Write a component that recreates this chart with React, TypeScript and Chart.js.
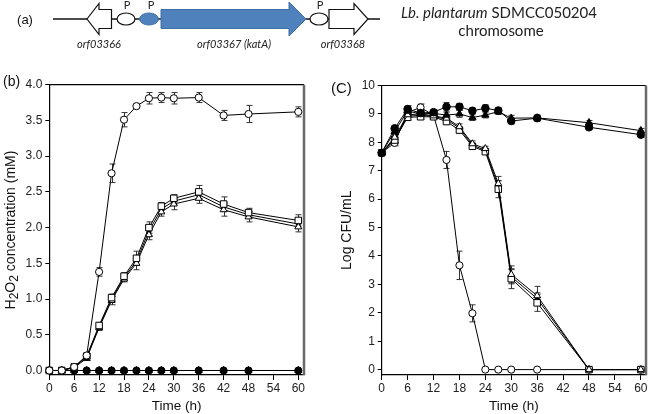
import React, { useEffect, useRef } from "react";
import { Chart, registerables } from "chart.js";
Chart.register(...registerables);

// ---------- Panel (b): H2O2 concentration ----------
const timesB = [0, 3, 6, 9, 12, 15, 18, 21, 24, 27, 30, 36, 42, 48, 60];
const bOpenCircle = [0, 0, 0.05, 0.21, 1.38, 2.76, 3.51, 3.7, 3.81, 3.82, 3.81, 3.82, 3.57, 3.59, 3.62];
const bOpenCircleErr = [0, 0, 0.02, 0.03, 0.06, 0.13, 0.1, 0.03, 0.08, 0.07, 0.08, 0.07, 0.07, 0.12, 0.07];
const bOpenSquare = [0, 0, 0.05, 0.2, 0.63, 1.02, 1.32, 1.57, 2.0, 2.3, 2.41, 2.5, 2.33, 2.21, 2.1];
const bOpenSquareErr = [0, 0, 0.01, 0.03, 0.04, 0.05, 0.05, 0.1, 0.08, 0.05, 0.05, 0.09, 0.1, 0.06, 0.08];
const bOpenTriangle = [0, 0, 0.04, 0.17, 0.6, 0.98, 1.28, 1.5, 1.9, 2.22, 2.33, 2.41, 2.25, 2.15, 2.01];
const bOpenTriangleErr = [0, 0, 0.01, 0.03, 0.04, 0.06, 0.04, 0.09, 0.07, 0.06, 0.08, 0.07, 0.09, 0.07, 0.07];
const bFilledSquare = [0, 0, 0.05, 0.19, 0.61, 1.0, 1.3, 1.53, 1.95, 2.26, 2.37, 2.46, 2.29, 2.18, 2.05];
const bFilledSquareErr = [0, 0, 0, 0.02, 0.03, 0.04, 0.04, 0.06, 0.06, 0.05, 0.05, 0.06, 0.06, 0.05, 0.06];
const bFilledCircle = [0, 0, 0, 0, 0, 0, 0, 0, 0, 0, 0, 0, 0, 0, 0];
const bFilledTriangle = [0, 0, 0, 0, 0, 0, 0, 0, 0, 0, 0, 0, 0, 0, 0];
const bYTicks = [0, 0.5, 1, 1.5, 2, 2.5, 3, 3.5, 4];

// ---------- Panel (c): Log CFU/mL ----------
const timesC = [0, 3, 6, 9, 12, 15, 18, 21, 24, 27, 30, 36, 48, 60];
const cOpenCircle = [7.63, 7.98, 9.05, 9.23, 8.95, 7.38, 3.67, 1.98, 0, 0, 0, 0, 0, 0];
const cOpenCircleErr = [0.05, 0.1, 0.1, 0.12, 0.1, 0.3, 0.5, 0.3, 0, 0, 0, 0, 0, 0];
const cFilledCircle = [7.63, 8.49, 9.17, 9.03, 9.06, 9.25, 9.25, 9.11, 9.2, 9.12, 8.75, 8.85, 8.53, 8.27];
const cFilledCircleErr = [0.05, 0.1, 0.12, 0.08, 0.08, 0.15, 0.12, 0.1, 0.12, 0.1, 0.1, 0.1, 0.08, 0.1];
const cFilledTriangle = [7.63, 8.38, 9.1, 9.0, 9.02, 8.96, 9.0, 8.87, 8.96, 9.08, 8.85, 8.86, 8.69, 8.41];
const cFilledTriangleErr = [0.05, 0.1, 0.1, 0.08, 0.08, 0.1, 0.12, 0.1, 0.1, 0.1, 0.1, 0.1, 0.08, 0.08];
const cOpenSquare = [7.63, 8.08, 8.88, 8.9, 8.9, 8.73, 8.43, 7.86, 7.67, 6.35, 3.2, 2.35, 0, 0];
const cOpenSquareErr = [0.05, 0.1, 0.1, 0.08, 0.08, 0.1, 0.1, 0.1, 0.08, 0.3, 0.35, 0.3, 0, 0];
const cOpenTriangle = [7.63, 8.18, 8.97, 9.0, 8.93, 8.85, 8.55, 7.95, 7.78, 6.55, 3.35, 2.6, 0, 0];
const cOpenTriangleErr = [0.05, 0.1, 0.1, 0.08, 0.08, 0.1, 0.1, 0.1, 0.08, 0.25, 0.3, 0.33, 0, 0];
const cFilledSquare = [7.63, 8.12, 8.92, 8.95, 8.92, 8.8, 8.5, 7.9, 7.72, 6.45, 3.27, 2.5, 0, 0];
const cFilledSquareErr = [0, 0, 0, 0, 0, 0, 0, 0, 0, 0.2, 0.25, 0.2, 0, 0];
const cYTicks = [0, 1, 2, 3, 4, 5, 6, 7, 8, 9, 10];

const xTicks = [0, 6, 12, 18, 24, 30, 36, 42, 48, 54, 60];

const FONT = "'Liberation Sans', Arial, sans-serif";

function ds(times: number[], vals: number[], errs: number[], shape: string, r: number, fill: string) {
  return {
    data: times.map((t, i) => ({ x: t, y: vals[i] })),
    errors: errs,
    borderColor: "#000",
    borderWidth: 1,
    pointStyle: shape,
    pointRadius: r,
    pointHoverRadius: r,
    pointBackgroundColor: fill,
    pointBorderColor: "#000",
    pointBorderWidth: 1,
    tension: 0,
    clip: false,
    fill: false,
  };
}

const errorBarPlugin = {
  id: "errorBars",
  beforeDatasetsDraw(chart: any) {
    const ctx = chart.ctx;
    const xs = chart.scales.x;
    const ys = chart.scales.y;
    ctx.save();
    ctx.strokeStyle = "#333";
    ctx.lineWidth = 1;
    chart.data.datasets.forEach((d: any) => {
      const errs = d.errors;
      if (!errs) return;
      d.data.forEach((p: any, j: number) => {
        const e = errs[j];
        if (!e) return;
        const x = Math.round(xs.getPixelForValue(p.x)) + 0.5;
        const y1 = ys.getPixelForValue(p.y - e);
        const y2 = ys.getPixelForValue(p.y + e);
        ctx.beginPath();
        ctx.moveTo(x, y1);
        ctx.lineTo(x, y2);
        ctx.moveTo(x - 3, y1);
        ctx.lineTo(x + 3, y1);
        ctx.moveTo(x - 3, y2);
        ctx.lineTo(x + 3, y2);
        ctx.stroke();
      });
    });
    ctx.restore();
  },
};

const framePlugin = {
  id: "frame",
  afterDraw(chart: any) {
    const { left, right, top, bottom } = chart.chartArea;
    const ctx = chart.ctx;
    ctx.save();
    ctx.strokeStyle = "#000";
    ctx.lineWidth = 1.2;
    ctx.beginPath();
    ctx.moveTo(left, top);
    ctx.lineTo(right, top);
    ctx.stroke();
    ctx.strokeStyle = "#6a6a6a";
    ctx.lineWidth = 2.5;
    ctx.beginPath();
    ctx.moveTo(right, top);
    ctx.lineTo(right, bottom);
    ctx.stroke();
    ctx.restore();
  },
};

function makeConfig(opts: {
  datasets: any[];
  yMin: number;
  yMax: number;
  xMax: number;
  yTicks: number[];
  yDecimals: number;
  yTitle: string;
  showYTitle: boolean;
  padding: { left: number; right: number; top: number; bottom: number };
  yWidth: number;
  yTickPad: number;
}) {
  const tickFont = { family: FONT, size: 12 };
  const titleFont = { family: FONT, size: 14 };
  return {
    type: "line",
    data: { datasets: opts.datasets },
    plugins: [errorBarPlugin, framePlugin],
    options: {
      responsive: false,
      animation: false,
      events: [],
      layout: { padding: opts.padding },
      plugins: { legend: { display: false }, tooltip: { enabled: false } },
      scales: {
        x: {
          type: "linear",
          min: 0,
          max: opts.xMax,
          afterBuildTicks: (s: any) => {
            s.ticks = xTicks.map((v) => ({ value: v }));
          },
          afterFit: (s: any) => {
            s.height = 39;
          },
          grid: { display: true, drawOnChartArea: false, drawTicks: true, tickLength: 5, color: "#000", lineWidth: 1 },
          border: { display: true, color: "#000", width: 1.2 },
          ticks: { font: tickFont, color: "#222", padding: 1, maxRotation: 0, autoSkip: false, callback: (v: any) => String(v) },
          title: { display: true, text: "Time (h)", font: { family: FONT, size: 13.5 }, color: "#111", padding: 0 },
        },
        y: {
          type: "linear",
          min: opts.yMin,
          max: opts.yMax,
          afterBuildTicks: (s: any) => {
            s.ticks = opts.yTicks.map((v) => ({ value: v }));
          },
          afterFit: (s: any) => {
            s.width = opts.yWidth;
          },
          grid: { display: true, drawOnChartArea: false, drawTicks: true, tickLength: 4, color: "#000", lineWidth: 1 },
          border: { display: true, color: "#000", width: 1.2 },
          ticks: {
            font: tickFont,
            color: "#222",
            padding: opts.yTickPad,
            autoSkip: false,
            callback: (v: any) => Number(v).toFixed(opts.yDecimals),
          },
          title: { display: opts.showYTitle, text: opts.yTitle, font: titleFont, color: "#111", padding: 0 },
        },
      },
    },
  };
}

function ChartCanvas({ config, width, height, left }: { config: any; width: number; height: number; left: number }) {
  const ref = useRef<HTMLCanvasElement | null>(null);
  useEffect(() => {
    if (!ref.current) return;
    const chart = new Chart(ref.current, config);
    return () => chart.destroy();
  }, []);
  return (
    <canvas
      ref={ref}
      width={width}
      height={height}
      style={{ position: "absolute", left, top: 0, width, height }}
    />
  );
}

function GeneDiagram() {
  const blue = "#4F81BD";
  const blueEdge = "#3F6FA5";
  const lab = { fontFamily: "Lato, 'Open Sans', sans-serif", fontStyle: "italic" as const, fontSize: 11, fill: "#222" };
  const pf = { fontFamily: "Lato, 'Open Sans', sans-serif", fontSize: 11, fill: "#222", textAnchor: "middle" as const };
  return (
    <svg width={653} height={60} style={{ position: "absolute", left: 0, top: 0 }}>
      <text x={25} y={24} fontFamily={FONT} fontSize={13} textAnchor="middle" fill="#111">(a)</text>
      <line x1={53} y1={19} x2={380} y2={19} stroke="#111" strokeWidth={1.5} />
      <polygon points="87,19 99,3.5 99,9.5 111.5,9.5 111.5,28.5 99,28.5 99,34.5" fill="#fff" stroke="#111" strokeWidth={1.2} />
      <ellipse cx={126} cy={19} rx={9} ry={6} fill="#fff" stroke="#111" strokeWidth={1.2} />
      <ellipse cx={149} cy={19} rx={9.5} ry={6} fill={blue} stroke={blueEdge} strokeWidth={1} />
      <polygon points="161,9.5 289,9.5 289,2 306,19 289,36 289,28.5 161,28.5" fill={blue} stroke={blueEdge} strokeWidth={1} />
      <ellipse cx={319} cy={19} rx={9} ry={6} fill="#fff" stroke="#111" strokeWidth={1.2} />
      <polygon points="329,9.5 354,9.5 354,3.5 368,19 354,34.5 354,28.5 329,28.5" fill="#fff" stroke="#111" strokeWidth={1.2} />
      <text x={127} y={9} {...pf}>P</text>
      <text x={151} y={9} {...pf}>P</text>
      <text x={320} y={9} {...pf}>P</text>
      <text x={99} y={48} textAnchor="middle" {...lab}>orf03366</text>
      <text x={234} y={48} textAnchor="middle" {...lab}>orf03367 (katA)</text>
      <text x={343} y={48} textAnchor="middle" {...lab}>orf03368</text>
      <text x={499} y={18} textAnchor="middle" fontFamily="Lato, 'Open Sans', sans-serif" fontSize={15} fill="#222">
        <tspan fontStyle="italic">Lb. plantarum</tspan> SDMCC050204
      </text>
      <text x={501} y={36} textAnchor="middle" fontFamily="Lato, 'Open Sans', sans-serif" fontSize={15} fill="#222">chromosome</text>
    </svg>
  );
}

export default function App() {
  const configB = makeConfig({
    datasets: [
      ds(timesB, bOpenCircle, bOpenCircleErr, "circle", 3.6, "#fff"),
      ds(timesB, bOpenSquare, bOpenSquareErr, "rect", 4.6, "#fff"),
      ds(timesB, bOpenTriangle, bOpenTriangleErr, "triangle", 4, "#fff"),
      ds(timesB, bFilledSquare, bFilledSquareErr, "rect", 2.6, "#000"),
      ds(timesB, bFilledCircle, bFilledCircle, "circle", 3.6, "#000"),
      ds(timesB, bFilledTriangle, bFilledTriangle, "triangle", 4, "#000"),
    ],
    yMin: -0.063,
    yMax: 4,
    xMax: 61.37,
    yTicks: bYTicks,
    yDecimals: 1,
    yTitle: "H2O2 concentration (mM)",
    showYTitle: false,
    padding: { left: 2, right: 22, top: 84.7, bottom: 0 },
    yWidth: 47.3,
    yTickPad: 3,
  });
  const configC = makeConfig({
    datasets: [
      ds(timesC, cFilledCircle, cFilledCircleErr, "circle", 3.8, "#000"),
      ds(timesC, cFilledTriangle, cFilledTriangleErr, "triangle", 4.2, "#000"),
      ds(timesC, cOpenTriangle, cOpenTriangleErr, "triangle", 4, "#fff"),
      ds(timesC, cOpenSquare, cOpenSquareErr, "rect", 4.6, "#fff"),
      ds(timesC, cOpenCircle, cOpenCircleErr, "circle", 3.6, "#fff"),
      ds(timesC, cFilledSquare, cFilledSquareErr, "rect", 2.6, "#000"),
    ],
    yMin: -0.19,
    yMax: 10,
    xMax: 61.2,
    yTicks: cYTicks,
    yDecimals: 0,
    yTitle: "Log CFU/mL",
    showYTitle: true,
    padding: { left: 13, right: 7, top: 85.5, bottom: 0 },
    yWidth: 42.7,
    yTickPad: 2.7,
  });
  const subStyle = { fontSize: 12, verticalAlign: "-3px", lineHeight: "0" };
  return (
    <div style={{ position: "absolute", left: 0, top: 0, width: 653, height: 414, background: "#fff", overflow: "hidden" }}>
      <ChartCanvas config={configB} width={326} height={414} left={0} />
      <ChartCanvas config={configC} width={327} height={414} left={326} />
      <GeneDiagram />
      <div
        style={{
          position: "absolute",
          left: 10 - 110,
          top: 230 - 9,
          width: 220,
          height: 18,
          lineHeight: "18px",
          textAlign: "center",
          transform: "rotate(-90deg)",
          fontFamily: FONT,
          fontSize: 14,
          color: "#111",
          whiteSpace: "nowrap",
        }}
      >
        H<span style={subStyle}>2</span>O<span style={subStyle}>2</span> concentration (mM)
      </div>
      <div style={{ position: "absolute", left: 3, top: 73, fontFamily: FONT, fontSize: 14, color: "#111", lineHeight: "17px" }}>(b)</div>
      <div style={{ position: "absolute", left: 331, top: 79, fontFamily: FONT, fontSize: 15, color: "#111", lineHeight: "18px" }}>(C)</div>
    </div>
  );
}
